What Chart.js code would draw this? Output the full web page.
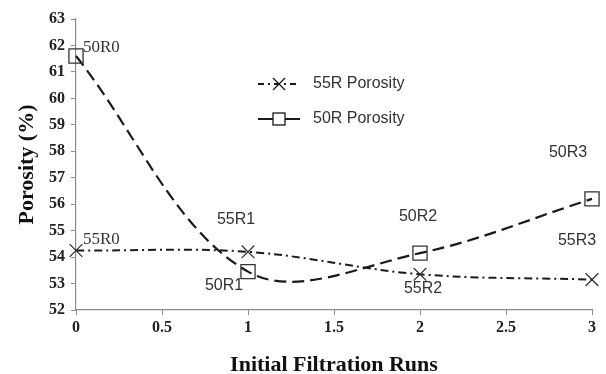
<!DOCTYPE html>
<html>
<head>
  <title>Porosity vs Initial Filtration Runs</title>
  <script src="https://cdn.jsdelivr.net/npm/chart.js"></script>
  <style>
    html, body { margin: 0; padding: 0; background: #fff; }
    #wrap { width: 606px; height: 374px; }
  </style>
</head>
<body>
  <div id="wrap"><canvas id="porosityChart" width="606" height="374"></canvas></div>

  <script>
    const runs = [0, 1, 2, 3];
    const porosity55R = [54.25, 54.2, 53.35, 53.15];
    const porosity50R = [61.6, 53.45, 54.15, 56.2];
    const labels55R = ['55R0', '55R1', '55R2', '55R3'];
    const labels50R = ['50R0', '50R1', '50R2', '50R3'];

    const ink = '#1a1a1a';
    const axisGray = '#8c8c8c';

    // label offsets from the point (dx, dy, font, align)
    const labelPlace = [
      [[7, -11, 'serif', 'left'], [-12, -32, 'sans', 'center'], [3, 14, 'sans', 'center'], [-15, -39, 'sans', 'center']],
      [[7, -9, 'serif', 'left'], [-24, 14, 'sans', 'center'], [-2, -37, 'sans', 'center'], [-24, -46, 'sans', 'center']]
    ];

    const pointLabels = {
      id: 'pointLabels',
      afterDatasetsDraw(chart) {
        const c = chart.ctx;
        const names = [labels55R, labels50R];
        c.save();
        c.fillStyle = '#333';
        c.textBaseline = 'middle';
        chart.data.datasets.forEach((ds, i) => {
          chart.getDatasetMeta(i).data.forEach((pt, j) => {
            const p = labelPlace[i][j];
            c.font = p[2] === 'serif' ? '17px "Liberation Serif"' : '16px "Liberation Sans"';
            c.textAlign = p[3];
            c.fillText(names[i][j], pt.x + p[0], pt.y + p[1]);
          });
        });
        c.restore();
      }
    };

    const sideLegend = {
      id: 'sideLegend',
      afterDraw(chart) {
        const c = chart.ctx;
        c.save();
        c.strokeStyle = ink;
        c.lineWidth = 2;
        // 55R row
        let y = 84;
        c.setLineDash([6, 4, 2, 4]);
        c.beginPath(); c.moveTo(258, y); c.lineTo(300, y); c.stroke();
        c.setLineDash([]);
        c.lineWidth = 1.3;
        c.beginPath();
        c.moveTo(273, y - 6); c.lineTo(285, y + 6);
        c.moveTo(285, y - 6); c.lineTo(273, y + 6);
        c.stroke();
        // 50R row
        y = 119;
        c.lineWidth = 2;
        c.beginPath(); c.moveTo(258, y); c.lineTo(300, y); c.stroke();
        c.lineWidth = 1.3;
        c.fillStyle = '#fff';
        c.fillRect(273, y - 6, 12, 12);
        c.strokeRect(273, y - 6, 12, 12);
        c.fillStyle = '#333';
        c.font = '16px "Liberation Sans"';
        c.textAlign = 'left';
        c.textBaseline = 'middle';
        c.fillText('55R Porosity', 313, 84);
        c.fillText('50R Porosity', 313, 119);
        c.restore();
      }
    };

    const tickFont = { family: '"Liberation Serif"', size: 16, weight: 'bold' };
    const titleFont = { family: '"Liberation Serif"', size: 22, weight: 'bold' };

    const ctx = document.getElementById('porosityChart').getContext('2d');
    new Chart(ctx, {
      type: 'line',
      data: {
        datasets: [{
          label: '55R Porosity',
          data: runs.map((x, i) => ({ x: x, y: porosity55R[i] })),
          borderColor: ink,
          borderWidth: 2,
          borderDash: [8, 4, 2, 4],
          tension: 0.35,
          clip: false,
          pointStyle: 'crossRot',
          pointRadius: 9,
          pointBorderWidth: 1.3,
          pointBorderColor: '#333',
          pointBackgroundColor: '#333',
          fill: false
        }, {
          label: '50R Porosity',
          data: runs.map((x, i) => ({ x: x, y: porosity50R[i] })),
          borderColor: ink,
          borderWidth: 2.2,
          borderDash: [12, 6],
          tension: 0.35,
          clip: false,
          pointStyle: 'rect',
          pointRadius: 10,
          pointBorderWidth: 1.3,
          pointBorderColor: '#333',
          pointBackgroundColor: 'rgba(255,255,255,0)',
          fill: false
        }]
      },
      options: {
        responsive: false,
        animation: false,
        layout: { padding: { top: 19, right: 14, left: 10, bottom: 0 } },
        plugins: {
          legend: { display: false },
          tooltip: { enabled: false }
        },
        scales: {
          x: {
            type: 'linear',
            min: 0,
            max: 3,
            afterFit(s) { s.height = 64; },
            ticks: {
              stepSize: 0.5,
              color: '#222',
              font: tickFont,
              padding: 3,
              callback: v => String(v)
            },
            grid: { drawOnChartArea: false, drawTicks: true, tickLength: 5, color: axisGray },
            border: { color: axisGray, width: 1.2 },
            title: {
              display: true,
              text: 'Initial Filtration Runs',
              color: '#111',
              font: titleFont,
              padding: { top: 10, bottom: -5 }
            }
          },
          y: {
            min: 52,
            max: 63,
            afterFit(s) { s.width = 66; },
            ticks: {
              stepSize: 1,
              color: '#222',
              font: tickFont,
              padding: 6
            },
            grid: { drawOnChartArea: false, drawTicks: true, tickLength: 5, color: axisGray },
            border: { color: axisGray, width: 1.2 },
            title: {
              display: true,
              text: 'Porosity (%)',
              color: '#111',
              font: titleFont,
              padding: { bottom: 2 }
            }
          }
        }
      },
      plugins: [pointLabels, sideLegend]
    });
  </script>
</body>
</html>
